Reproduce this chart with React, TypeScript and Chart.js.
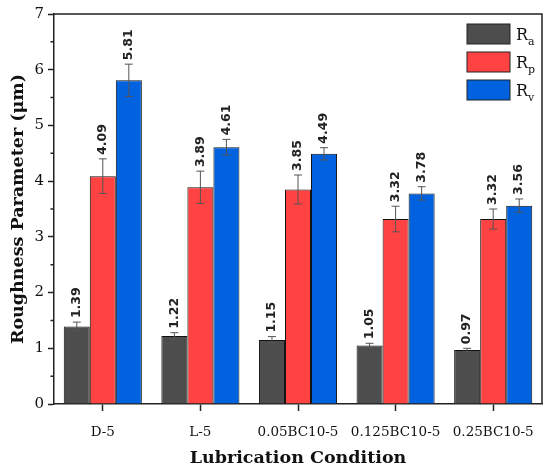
import { useEffect, useRef } from "react";
import Chart from "chart.js/auto";

const conditions = ["D-5", "L-5", "0.05BC10-5", "0.125BC10-5", "0.25BC10-5"];
const raValues = [1.39, 1.22, 1.15, 1.05, 0.97];
const rpValues = [4.09, 3.89, 3.85, 3.32, 3.32];
const rvValues = [5.81, 4.61, 4.49, 3.78, 3.56];
const raErrors = [0.08, 0.06, 0.06, 0.04, 0.03];
const rpErrors = [0.31, 0.29, 0.26, 0.23, 0.18];
const rvErrors = [0.29, 0.14, 0.11, 0.12, 0.12];
const seriesNames = [
  ["R", "a"],
  ["R", "p"],
  ["R", "v"],
];
const minorTicks = [0.5, 1.5, 2.5, 3.5, 4.5, 5.5, 6.5];

const SERIF = "'DejaVu Serif', serif";

const errorBars = {
  id: "errorBars",
  afterDatasetsDraw(chart: any) {
    const { ctx } = chart;
    const y = chart.scales.y;
    chart.data.datasets.forEach((ds: any, i: number) => {
      const meta = chart.getDatasetMeta(i);
      meta.data.forEach((bar: any, j: number) => {
        const v = ds.data[j];
        const e = ds.errors[j];
        const top = y.getPixelForValue(v + e);
        const bot = y.getPixelForValue(v - e);
        ctx.save();
        ctx.strokeStyle = "#555";
        ctx.lineWidth = 1;
        ctx.beginPath();
        ctx.moveTo(bar.x, top);
        ctx.lineTo(bar.x, bot);
        ctx.moveTo(bar.x - 4, top);
        ctx.lineTo(bar.x + 4, top);
        ctx.moveTo(bar.x - 4, bot);
        ctx.lineTo(bar.x + 4, bot);
        ctx.stroke();
        // value label, rotated
        ctx.translate(bar.x, top - 4);
        ctx.rotate(-Math.PI / 2);
        ctx.fillStyle = "#222";
        ctx.font = "bold 12.5px 'DejaVu Sans', sans-serif";
        ctx.textAlign = "left";
        ctx.textBaseline = "middle";
        ctx.fillText(v.toFixed(2), 0, 0);
        ctx.restore();
      });
    });
  },
};

const frameAndLegend = {
  id: "frameAndLegend",
  afterDraw(chart: any) {
    const { ctx, chartArea } = chart;
    const y = chart.scales.y;
    ctx.save();
    ctx.strokeStyle = "#222";
    ctx.lineWidth = 1.5;
    ctx.beginPath();
    ctx.moveTo(chartArea.left, chartArea.top);
    ctx.lineTo(chartArea.right, chartArea.top);
    ctx.lineTo(chartArea.right, chartArea.bottom);
    ctx.stroke();
    ctx.beginPath();
    minorTicks.forEach((t) => {
      const py = y.getPixelForValue(t);
      ctx.moveTo(chartArea.left, py);
      ctx.lineTo(chartArea.left - 3.5, py);
    });
    ctx.stroke();

    // legend
    chart.data.datasets.forEach((ds: any, i: number) => {
      const top = chartArea.top + 10 + i * 28;
      const left = chartArea.right - 75;
      ctx.fillStyle = ds.backgroundColor;
      ctx.fillRect(left, top, 43, 20);
      ctx.strokeStyle = "#222";
      ctx.lineWidth = 1;
      ctx.strokeRect(left, top, 43, 20);
      ctx.fillStyle = "#111";
      ctx.textAlign = "left";
      ctx.textBaseline = "alphabetic";
      ctx.font = `16px ${SERIF}`;
      const [main, sub] = seriesNames[i];
      ctx.fillText(main, left + 49, top + 16);
      const w = ctx.measureText(main).width;
      ctx.font = `11px ${SERIF}`;
      ctx.fillText(sub, left + 49 + w, top + 21);
    });
    ctx.restore();
  },
};

export default function App() {
  const ref = useRef<HTMLCanvasElement>(null);

  useEffect(() => {
    document.body.style.margin = "0";
    let chart: Chart;
    if (ref.current) {
      chart = new Chart(ref.current, {
        type: "bar",
        data: {
          labels: conditions,
          datasets: [
            { label: "Ra", data: raValues, errors: raErrors, backgroundColor: "#4d4d4d" } as any,
            { label: "Rp", data: rpValues, errors: rpErrors, backgroundColor: "#ff4242" } as any,
            { label: "Rv", data: rvValues, errors: rvErrors, backgroundColor: "#0062de" } as any,
          ].map((d) => ({
            ...d,
            borderColor: "#111",
            borderWidth: 1,
            categoryPercentage: 0.8,
            barPercentage: 1.0,
          })),
        },
        options: {
          animation: false,
          responsive: true,
          maintainAspectRatio: false,
          layout: { padding: { top: 14, right: 8, left: 0, bottom: 0 } },
          plugins: {
            legend: { display: false },
            tooltip: { enabled: false },
          },
          scales: {
            x: {
              grid: {
                display: true,
                drawOnChartArea: false,
                drawTicks: true,
                tickLength: 7,
                tickWidth: 1.5,
                tickColor: "#222",
                offset: false,
              },
              border: { display: true, color: "#222", width: 1.5 },
              ticks: {
                color: "#111",
                padding: 13,
                maxRotation: 0,
                font: { family: SERIF, size: 13.5 },
              },
              title: {
                display: true,
                text: "Lubrication Condition",
                color: "#111",
                font: { family: SERIF, size: 17.5, weight: "bold" },
                padding: { top: 0, bottom: 2 },
              },
              afterFit: (s: any) => {
                s.height = 67;
              },
            },
            y: {
              min: 0,
              max: 7,
              ticks: {
                stepSize: 1,
                color: "#111",
                padding: 4,
                font: { family: SERIF, size: 15 },
              },
              grid: {
                display: true,
                drawOnChartArea: false,
                drawTicks: true,
                tickLength: 6,
                tickWidth: 1.5,
                tickColor: "#222",
              },
              border: { display: true, color: "#222", width: 1.5 },
              title: {
                display: true,
                text: "Roughness Parameter (μm)",
                color: "#111",
                font: { family: SERIF, size: 17.5, weight: "bold" },
                padding: { top: 8, bottom: 0 },
              },
              afterFit: (s: any) => {
                s.width = 54;
              },
            },
          },
        },
        plugins: [errorBars, frameAndLegend],
      });
    }
    return () => {
      chart?.destroy();
    };
  }, []);

  return (
    <div style={{ width: 550, height: 471, position: "relative" }}>
      <canvas ref={ref} />
    </div>
  );
}
